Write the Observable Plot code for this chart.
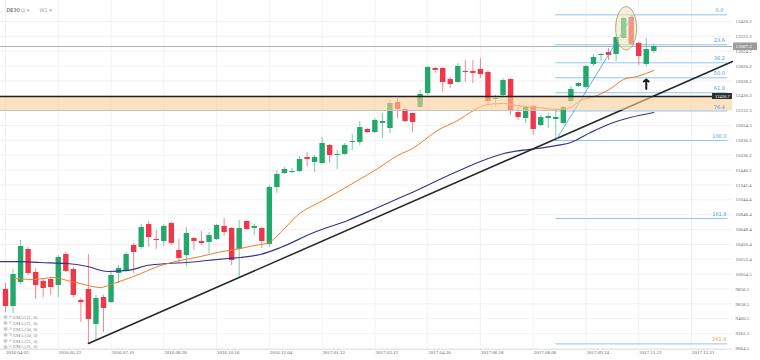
<!DOCTYPE html>
<html><head><meta charset="utf-8">
<script src="https://cdn.jsdelivr.net/npm/d3@7"></script>
<script src="https://cdn.jsdelivr.net/npm/@observablehq/plot@0.6"></script>
<style>body{margin:0;background:#fff}</style>
</head><body><div id="chart"></div>
<script>
// ---- data (weekly DE30 candles, first week 2016.04.03) ----
const opens  = [9851,9624,9944,10383,10077,9957,9984,9904,10317,10117,9704,9850,9384,9744,9677,10064,10090,10437,10410,10716,10517,10490,10730,10370,10303,10530,10490,10477,10517,10690,10663,10383,10756,10663,10663,10450,11209,11396,11409,11422,11609,11542,11529,11769,11635,11649,11809,11809,11982,11942,12062,11995,12341,12248,12195,12275,12461,12794,12794,12648,12608,12754,12754,12781,12741,12381,12435,12648,12208,12128,12288,12035,12128,12115,12062,12355,12554,12541,12848,12967,13007,12981,13194,13474,13127,12848,13021];
const highs  = [9930,10117,10503,10410,10130,9997,10010,10303,10343,10143,9731,10317,9771,9771,10077,10170,10343,10463,10716,10756,10636,10716,10743,10517,10676,10543,10623,10610,10716,10796,10676,10770,10770,10716,10676,11236,11436,11476,11462,11622,11675,11635,11875,11782,11702,11795,11915,12088,11995,12128,12195,12368,12395,12261,12200,12501,12821,12808,12808,12674,12861,12901,12901,12927,12768,12435,12661,12661,12275,12288,12301,12168,12195,12261,12288,12554,12608,12834,12981,12994,13061,13220,13474,13500,13141,13194,13114];
const lows   = [9544,9531,9917,10037,9717,9744,9771,9744,10077,9744,9411,9131,9171,9278,9664,9930,10077,10064,10383,10410,10383,10423,10437,10210,10157,10370,10437,10330,10503,10556,10170,10010,10636,10570,10397,10410,11129,11382,11396,11409,11476,11409,11516,11529,11449,11635,11702,11769,11928,11928,11862,11928,12128,12075,11942,12261,12435,12728,12475,12528,12594,12608,12594,12661,12288,12288,12408,12168,12102,12062,11902,12022,11995,11835,12048,12341,12541,12528,12821,12887,12901,12887,13180,13101,12834,12821,12994];
const closes = [9624,10050,10423,10064,9904,9864,9877,10277,10090,9771,9677,9451,9731,9597,10037,10130,10317,10343,10676,10543,10503,10690,10463,10263,10596,10490,10463,10570,10703,10610,10237,10663,10650,10690,10490,11209,11382,11449,11422,11582,11582,11609,11795,11635,11649,11769,11822,12008,11942,12102,12088,12328,12248,12088,12075,12448,12808,12768,12608,12581,12821,12741,12728,12714,12355,12395,12634,12235,12142,12275,11982,12142,12155,12142,12275,12515,12594,12821,12941,12981,12967,13207,13460,13114,12954,13047,13087];

const dateTickLabels = ["2016.04.03","2016.05.22","2016.07.10","2016.08.28","2016.10.16","2016.12.04","2017.01.22","2017.03.12","2017.04.30","2017.06.18","2017.08.06","2017.09.24","2017.11.12","2017.12.31"];
const weeksPerDateTick = 7;
const priceTicks = [9064.5,9262.5,9460.5,9658.5,9856.5,10054.5,10252.4,10450.4,10648.4,10846.4,11044.4,11242.4,11440.3,11638.3,11836.3,12034.3,12232.3,12430.3,12628.2,12826.2,13024.2,13222.2,13420.2];

// EMA lines (week index, price)
const emaFastIdx = [1.1,3.7,6.4,8.2,9.9,12.6,14.3,17,20.6,23.2,25.9,28.1,31.2,33.8,34.7,36.5,38.7,42.1,44,46.7,49.4,52,54,55.5,57.3,60,62.1,63.9,66.1,67.9,70.6,73.2,74.6,76.3,78.5,80.3,82,83.8,86];
const emaFastVal = [9997,9984,10010,9970,9930,9877,9930,10024,10170,10237,10290,10343,10397,10450,10463,10610,10836,11036,11143,11302,11462,11635,11729,11835,11968,12102,12235,12315,12328,12301,12275,12248,12261,12368,12435,12528,12648,12688,12768];
const emaSlowIdx = [-0.66,2,4.6,8.2,10.9,13.5,16.2,18.8,21.5,24.1,26.8,29.5,31.2,33.8,36.5,40.9,45.4,48.8,51.5,55.1,57.3,60.8,63,66.1,70.6,73.2,75,77.6,80.3,82.9,86];
const emaSlowVal = [10223,10223,10210,10197,10157,10090,10104,10170,10197,10210,10237,10263,10277,10317,10410,10610,10770,10916,11036,11196,11302,11462,11556,11662,11729,11769,11809,11942,12062,12142,12208];

// Fibonacci retracement
const fibLabels = ["0.0","23.6","38.2","50.0","61.8","76.4","100.0","161.8","261.8"];
const fibPrices = [13509,13110,12870,12670,12471,12228,11835,10796,9126];
const fibFromWeek = 73, fibToWeek = 95.8;
const fibAnchorWeeks = [73, 83.2];
const fibAnchorPrices = [11835, 13500];

// Annotations
const trendWeeks = [11, 96.44];
const trendPrices = [9131, 12887];
const supportLevel = 12421, supportText = "12420.7";
const bandLow = 12235, bandHigh = 12421;
const lastPrice = 13087.3;
const ellipseWeek = 82.4, ellipsePrice = 13323, ellipseHalfWeeks = 1.39, ellipseHalfPrice = 289;
const arrowWeek = 85, arrowFrom = 12521, arrowTo = 12648;
const legendRows = ["EMA (21, 0)","EMA (21, 0)","EMA (50, 0)","EMA (50, 0)","EMA (21, 0)","EMA (21, 0)"];

// ---- chart ----
const GREEN = "#22a86b", RED = "#f2364a";
const xMin = -0.663, xMax = 96.44;
const yBottom = 9051, yTop = 13700;
const serif = "'Liberation Serif', 'DejaVu Serif', serif";
const sans = "'DejaVu Sans', sans-serif";

const candles = opens.map((o, i) => ({i, o, h: highs[i], l: lows[i], c: closes[i], col: closes[i] >= o ? GREEN : RED}));
const emaFast = emaFastIdx.map((i, k) => ({i, v: emaFastVal[k]}));
const emaSlow = emaSlowIdx.map((i, k) => ({i, v: emaSlowVal[k]}));
const fib = fibPrices.map((p, k) => ({p, t: fibLabels[k], col: k === fibPrices.length - 1 ? "#f0a23a" : "#4b9ee6"}));
const fibAnchor = fibAnchorWeeks.map((i, k) => ({i, p: fibAnchorPrices[k]}));
const trend = trendWeeks.map((i, k) => ({i, p: trendPrices[k]}));
const dateTicks = dateTickLabels.map((t, k) => ({i: k * weeksPerDateTick, t}));

const marks = [
  Plot.ruleY(priceTicks, {x1: xMin, x2: xMax, stroke: "#efefef", strokeWidth: 0.8}),
  Plot.ruleX(dateTicks, {x: "i", y1: yBottom, y2: yTop, stroke: "#efefef", strokeWidth: 0.8}),
  Plot.ruleY([yBottom], {x1: xMin, x2: xMax, stroke: "#e6e6e6"}),
  Plot.ruleY(fib, {y: "p", x1: fibFromWeek, x2: fibToWeek, stroke: "#8cc5f4", strokeWidth: 1}),
  Plot.ruleY([lastPrice], {x1: xMin, x2: xMax, stroke: "#b3b3b3", strokeWidth: 1}),
  Plot.ruleX(candles, {x: "i", y1: "l", y2: "h", stroke: "col", strokeOpacity: 0.6, strokeWidth: 1}),
  Plot.ruleX(candles, {x: "i", y1: "o", y2: "c", stroke: "col", strokeWidth: 5.4}),
  Plot.line(emaSlow, {x: "i", y: "v", stroke: "#34358e", strokeWidth: 1.2, curve: "monotone-x"}),
  Plot.line(emaFast, {x: "i", y: "v", stroke: "#f27b2a", strokeWidth: 1, curve: "monotone-x"}),
  Plot.line(trend, {x: "i", y: "p", stroke: "#262626", strokeWidth: 1.5}),
  Plot.line(fibAnchor, {x: "i", y: "p", stroke: "#3a9bf0", strokeWidth: 0.8}),
  Plot.rect([0], {x1: xMin, x2: xMax, y1: bandLow, y2: bandHigh, fill: "#fbcf98", fillOpacity: 0.6}),
  Plot.ruleY([bandLow], {x1: xMin, x2: fibFromWeek, stroke: "#c2c2c2", strokeWidth: 1}),
  Plot.ruleY([supportLevel], {x1: xMin, x2: xMax, stroke: "#222", strokeWidth: 1.5}),
  Plot.arrow([0], {x1: arrowWeek, x2: arrowWeek, y1: arrowFrom, y2: arrowTo, stroke: "#1e1e1e", strokeWidth: 2, headLength: 6, headAngle: 100}),
  // fib labels
  Plot.text(fib, {x: 94.7, y: "p", text: "t", fill: "col", dy: -4, fontSize: 5, fontFamily: sans}),
  // support label box
  Plot.rect([0], {x1: 93.79, x2: xMax, y1: 12381, y2: 12461, fill: "#2e2e2e"}),
  Plot.text([supportLevel], {x: 95.1, y: d => d, text: () => supportText, fill: "white", fontSize: 4.6, fontFamily: serif}),
  // last price label box
  Plot.rect([0], {x1: 96.58, x2: 99.76, y1: 13034, y2: 13134, fill: "#9b9b9b"}),
  // price axis labels
  Plot.text(priceTicks, {y: d => d, text: d => d.toFixed(1), frameAnchor: "right", dx: -25, textAnchor: "start", fontSize: 5, fill: "#666", fontFamily: serif}),
  Plot.text([lastPrice], {y: d => d, text: d => d.toFixed(1), frameAnchor: "right", dx: -25, textAnchor: "start", fontSize: 5, fill: "#fff", fontFamily: serif}),
  // date axis labels
  Plot.text(dateTicks, {x: "i", text: "t", frameAnchor: "bottom", dy: -7, dx: 0.5, textAnchor: "start", fontSize: 5, fill: "#666", fontFamily: serif}),
  // title
  Plot.text(["DE30"], {frameAnchor: "top-left", dx: 6, dy: 8, textAnchor: "start", fontSize: 5, fill: "#444", fontFamily: sans}),
  Plot.text(["▤ ▾"], {frameAnchor: "top-left", dx: 20, dy: 8, textAnchor: "start", fontSize: 5, fill: "#b0b0b0", fontFamily: sans}),
  Plot.text(["W1 ▾"], {frameAnchor: "top-left", dx: 39, dy: 8, textAnchor: "start", fontSize: 5, fill: "#a0a0a0", fontFamily: sans}),
  // legend
  ...legendRows.map((t, k) => Plot.text([t], {frameAnchor: "top-left", dx: 12.5, dy: 315 + 5.9 * k, textAnchor: "start", fontSize: 4.8, fill: "#8a8a8a", fontFamily: serif})),
  ...legendRows.map((t, k) => Plot.text(["▤ ✕"], {frameAnchor: "top-left", dx: 3, dy: 315 + 5.9 * k, textAnchor: "start", fontSize: 4.2, fill: "#a8a8a8", fontFamily: sans}))
];

const plot = Plot.plot({
  width: 760, height: 360,
  marginLeft: 0, marginRight: 0, marginTop: 0, marginBottom: 0,
  x: {type: "linear", domain: [xMin, xMax], range: [0, 732], axis: null},
  y: {type: "linear", domain: [priceTicks[0], priceTicks[priceTicks.length - 1]], range: [348, 21], axis: null},
  color: {type: "identity"},
  style: {background: "#fff", overflow: "visible"},
  marks
});

// highlight ellipse around the top, placed through the plot's own scales
const sx = plot.scale("x"), sy = plot.scale("y");
const cx = sx.apply(ellipseWeek), cy = sy.apply(ellipsePrice);
const rx = Math.abs(sx.apply(ellipseWeek + ellipseHalfWeeks) - cx);
const ry = Math.abs(sy.apply(ellipsePrice + ellipseHalfPrice) - cy);
d3.select(plot).append("ellipse")
  .attr("cx", cx).attr("cy", cy).attr("rx", rx).attr("ry", ry)
  .attr("fill", "#efe6b4").attr("fill-opacity", 0.55)
  .attr("stroke", "#b3a78a").attr("stroke-width", 1);

document.getElementById("chart").appendChild(plot);
</script>
</body></html>
